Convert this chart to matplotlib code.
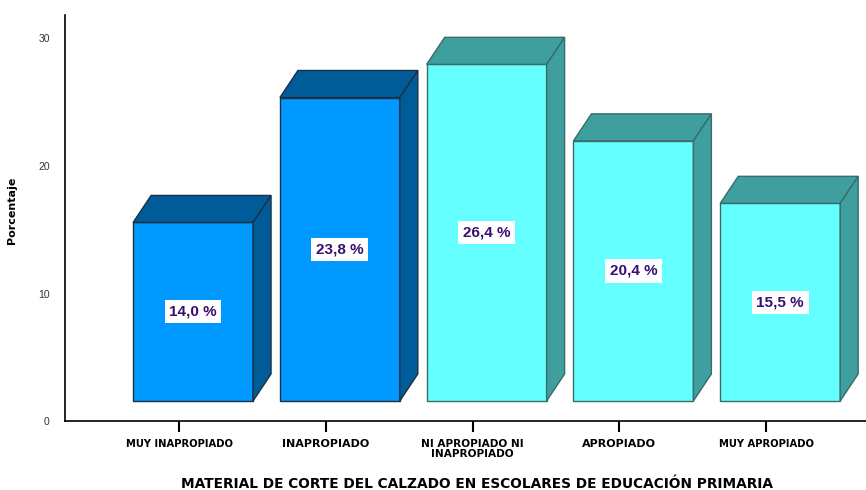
import numpy as np
import matplotlib
matplotlib.use('Agg')
from matplotlib import pyplot as plt
from matplotlib.patches import Polygon

plt.rcParams['font.family'] = ['Liberation Sans', 'DejaVu Sans']

# porcentajes por categoria
categorias = ['MUY INAPROPIADO', 'INAPROPIADO', 'NI APROPIADO NI\nINAPROPIADO',
              'APROPIADO', 'MUY APROPIADO']
porcentajes = [14.0, 23.8, 26.4, 20.4, 15.5]
etiquetas = ['14,0 %', '23,8 %', '26,4 %', '20,4 %', '15,5 %']
tam_etiqueta = [7.2, 8, 7.6, 8, 7.2]

frente = ['#0099ff', '#0099ff', '#66ffff', '#66ffff', '#66ffff']
lados = ['#005c99', '#005c99', '#3f9f9f', '#3f9f9f', '#3f9f9f']
bordes = ['#1c2f45', '#1c2f45', '#3a6b6b', '#3a6b6b', '#3a6b6b']

# geometria del efecto 3D
base = 1.57
ancho = 0.817
desp = -0.313
dx, dy = 0.1227, 2.12

fig = plt.figure(figsize=(8.66, 4.90), dpi=100)
ax = fig.add_axes([65/866, (490-421)/490, (866-65)/866, (421-15)/490])

x = np.arange(len(porcentajes))
ax.bar(x + desp, porcentajes, ancho, bottom=base, align='edge',
       color=frente, edgecolor=bordes, linewidth=1, zorder=3)

for i, v in enumerate(porcentajes):
    x0 = x[i] + desp
    x1 = x0 + ancho
    y0 = base
    y1 = base + v
    arriba = Polygon([(x0, y1), (x0 + dx, y1 + dy), (x1 + dx, y1 + dy), (x1, y1)],
                     closed=True, facecolor=lados[i], edgecolor=bordes[i], lw=1, zorder=3)
    lado = Polygon([(x1, y0), (x1 + dx, y0 + dy), (x1 + dx, y1 + dy), (x1, y1)],
                   closed=True, facecolor=lados[i], edgecolor=bordes[i], lw=1, zorder=3)
    ax.add_patch(arriba)
    ax.add_patch(lado)
    ax.text(x0 + ancho/2, base + v/2, etiquetas[i], ha='center', va='center',
            fontsize=11, fontweight='bold', color='#3a0f6e', zorder=5,
            bbox=dict(boxstyle='square,pad=0.3', fc='white', ec='none'))

ax.set_xlim(-0.777, 4.68)
ax.set_ylim(0, 406/12.75)
ax.set_yticks([0, 10, 20, 30])
ax.tick_params(axis='y', length=0, pad=11, labelsize=7.5, labelcolor='#333333')
ax.set_xticks(x)
ax.set_xticklabels(categorias)
ax.tick_params(axis='x', length=8, width=1.5, pad=5, direction='out')
for lbl, t in zip(ax.get_xticklabels(), tam_etiqueta):
    lbl.set_fontsize(t)
    lbl.set_fontweight('bold')
    lbl.set_family('DejaVu Sans')
    lbl.set_linespacing(1.05)

ax.spines['top'].set_visible(False)
ax.spines['right'].set_visible(False)
ax.spines['left'].set_linewidth(1.2)
ax.spines['bottom'].set_linewidth(1.2)

ax.set_ylabel('Porcentaje', fontsize=8, fontweight='bold', family='DejaVu Sans')
ax.yaxis.set_label_coords(-48/801, (421-210)/406)
fig.text(477/866, 1 - 484/490, 'MATERIAL DE CORTE DEL CALZADO EN ESCOLARES DE EDUCACIÓN PRIMARIA',
         ha='center', va='center', fontsize=9.9, fontweight='bold', family='DejaVu Sans')

fig.savefig('out.png', dpi=100)
